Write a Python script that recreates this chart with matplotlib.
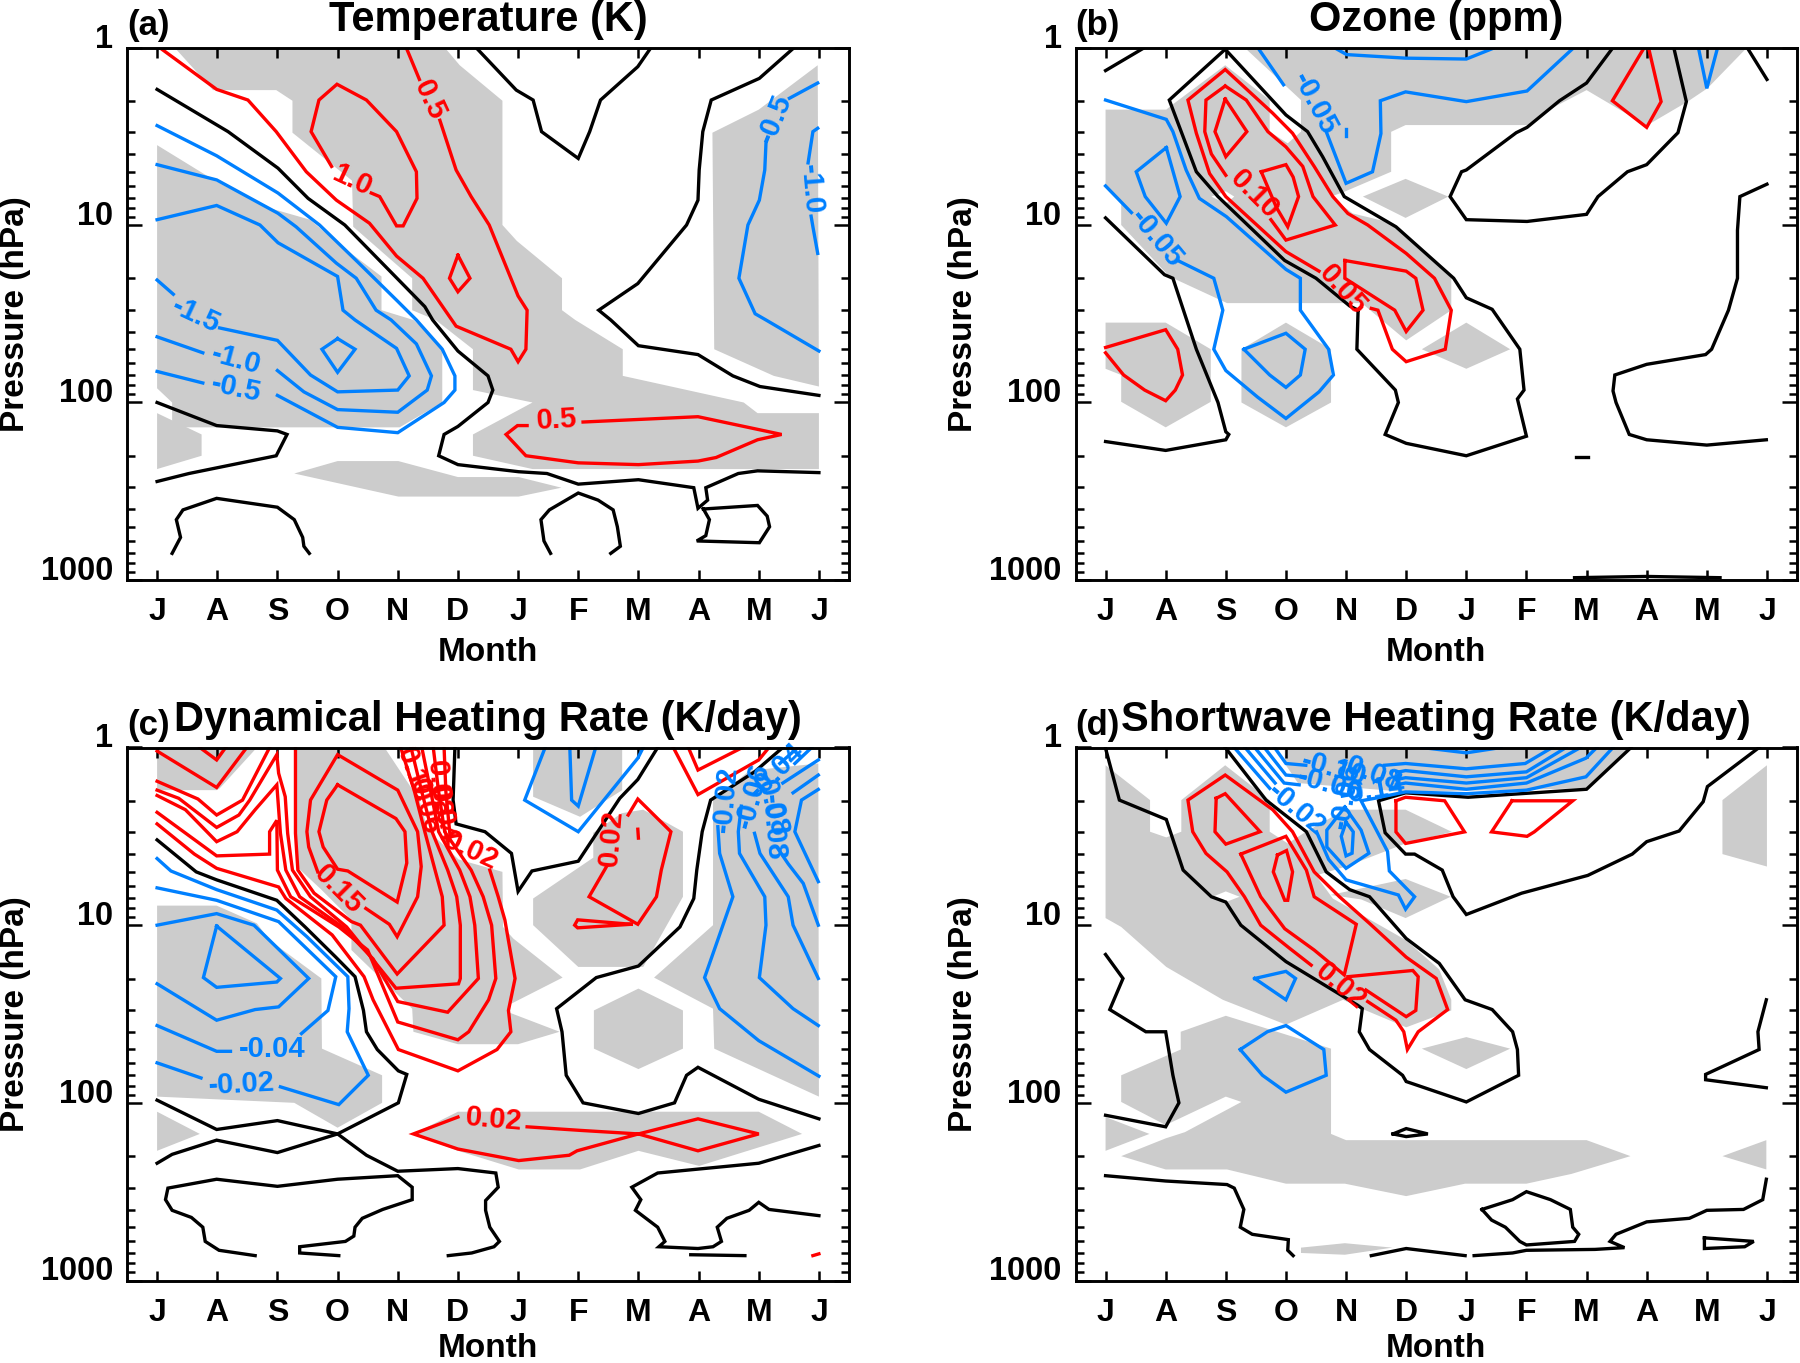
import matplotlib
matplotlib.use("Agg")
import matplotlib.pyplot as plt
import numpy as np

plt.rcParams['font.family'] = ['Liberation Sans', 'DejaVu Sans']
plt.rcParams['font.weight'] = 'bold'

months = ['J', 'A', 'S', 'O', 'N', 'D', 'J', 'F', 'M', 'A', 'M', 'J']

RED = '#ff0000'
BLUE = '#0080ff'
GREY = '#cccccc'

# every contour and patch is a list of (month index, log10 pressure in hPa)

# ---- (a) temperature
a_grey = [
    [(.29,0),(4.78,0),(5.03,.10),(5.74,.30),(5.74,1.0),(5.98,1.09),(6.73,1.30),(6.73,1.48),(6.95,1.535),(7.74,1.70),
     (7.74,1.85),(9.75,2.0),(9.98,2.06),(11,2.06),(11,2.375),(6.24,2.375),(5.25,2.30),(5.25,2.18),(6.24,2.0),(5.25,1.93),
     (5.25,1.70),(4.63,1.535),(4.24,1.48),(4.24,1.30),(3.26,1.01),(3.24,.75),(2.25,.48),(2.25,.30),(1.98,.24),(.93,.24)],
    [(0,.55),(.99,.756),(1.82,.90),(2.54,.97),(3.03,1.11),(3.73,1.29),(3.73,1.48),(4.26,1.535),(4.74,1.685),(4.74,2.0),
     (4.03,2.14),(.25,2.14),(.25,2.0),(0,1.92)],
    [(0,2.06),(.74,2.18),(.74,2.30),(0,2.375)],
    [(2.28,2.40),(3,2.33),(4.01,2.33),(5,2.42),(6.01,2.42),(6.72,2.48),(6.01,2.53),(4.01,2.53)],
    [(10.98,.10),(10,.35),(9.23,.48),(9.26,1.70),(10.25,1.85),(11,1.91)],
]
a_black = [
    [(0,.236),(1.18,.474),(2.01,.68),(2.51,.85),(3.12,1.0),(3.64,1.18),(4.45,1.46),(4.58,1.535),(5,1.71),(5.5,1.85),(5.58,1.93),
     (5.5,2.0),(5,2.135),(4.77,2.18),(4.68,2.30),(5,2.35),(6.01,2.39),(6.48,2.40),(7,2.46),(8,2.435),(8.92,2.48),(8.99,2.596),
     (9.15,2.55),(9.12,2.48),(9.66,2.40),(9.98,2.385),(11,2.395)],
    [(0,2.0),(.99,2.13),(2,2.16),(2.16,2.18),(1.98,2.30),(.53,2.40),(0,2.445)],
    [(.25,2.85),(.39,2.76),(.32,2.66),(.43,2.605),(.99,2.54),(2,2.59),(2.28,2.66),(2.42,2.76),(2.44,2.81),(2.53,2.85)],
    [(6.54,2.85),(6.43,2.78),(6.38,2.66),(6.52,2.605),(7,2.51),(7.33,2.55),(7.58,2.605),(7.65,2.70),(7.70,2.81),(7.54,2.85)],
    [(9.08,2.60),(9.98,2.58),(10.14,2.64),(10.18,2.70),(10.01,2.79),(8.97,2.78),(9.12,2.75),(9.18,2.66),(9.08,2.60)],
    [(5.3,0),(5.97,.24),(6.25,.296),(6.39,.474),(7,.625),(7.19,.474),(7.37,.296),(7.99,.108),(8.21,0)],
    [(10.59,0),(10.01,.174),(9.21,.296),(9.07,.474),(9.01,.69),(8.99,.86),(8.8,1.0),(7.99,1.33),(7.34,1.48),(7.54,1.535),(8,1.68),
     (8.99,1.73),(9.57,1.85),(10.02,1.91),(11,1.96)],
]
a_red = [
    [(.04,0),(.99,.236),(1.51,.296),(1.98,.474),(2.48,.70),(2.98,.86),(3.53,.99),(3.98,1.175),(4.42,1.30),(4.97,1.57),(5.88,1.70),
     (6,1.77),(6.13,1.70),(6.15,1.48),(6,1.40),(5.52,1.0),(5.22,.84),(4.97,.69),(4.70,.41)],
    [(4.36,.18),(4.14,0)],
    [(2.9,.67),(2.56,.474),(2.69,.296),(2.99,.207),(3.48,.296),(3.98,.474),(4.31,.70),(4.32,.85),(4.09,1.005),(3.98,1.005),(3.70,.84),(3.56,.82)],
    [(5,1.17),(5.2,1.30),(5,1.376),(4.86,1.30),(5,1.17)],
    [(7.08,2.11),(8.99,2.08),(10.38,2.18),(9.98,2.21),(9.29,2.31),(8.99,2.33),(8,2.35),(7,2.34),(6.13,2.30),(5.8,2.18),(5.99,2.13),(6.15,2.13)],
]
a_blue = [
    [(0,.44),(.99,.61),(2.01,.82),(2.7,1.0),(3.34,1.21),(4,1.43),(4.31,1.535),(4.74,1.70),(4.95,1.85),(4.95,1.93),(4.77,2.0),(4,2.17),
     (3,2.14),(2,1.96)],
    [(.76,1.89),(0,1.825)],
    [(0,.66),(.99,.746),(2.01,.934),(2.31,1.01),(2.98,1.215),(3.31,1.30),(3.64,1.48),(3.89,1.535),(4.31,1.67),(4.56,1.85),(4.49,1.93),
     (4,2.055),(3,2.04),(2.44,1.94),(2,1.82)],
    [(.76,1.72),(0,1.63)],
    [(0,1.31),(.27,1.39)],
    [(1.04,1.58),(2,1.65),(2.55,1.845),(3,1.94),(4,1.93),(4.19,1.85),(3.98,1.695),(3.29,1.535),(3.09,1.48),(3,1.29),(2.01,1.10),(1.71,1.0),(.99,.89),(0,.97)],
    [(3,1.64),(3.29,1.70),(3,1.83),(2.74,1.70),(3,1.64)],
    [(10.98,.20),(10.51,.286)],
    [(10.12,.54),(10.1,.69),(10.01,.86),(9.82,1.0),(9.67,1.30),(9.94,1.50),(10.12,1.535),(11,1.71)],
    [(10.98,.455),(10.9,.474),(10.82,.65)],
    [(10.87,.95),(10.9,1.01),(10.98,1.16)],
]
a_labels = [
    ('0.5', 4.53, .295, -65, RED), ('1.0', 3.23, .746, -25, RED), ('0.5', 6.64, 2.10, 3, RED),
    ('-1.5', .65, 1.51, -25, BLUE), ('-1.0', 1.31, 1.76, -15, BLUE), ('-0.5', 1.31, 1.92, -12, BLUE),
    ('-0.5', 10.26, .40, 68, BLUE), ('-1.0', 10.87, .80, -85, BLUE),
]

# ---- (b) ozone
b_grey = [
    [(0,.35),(1.01,.35),(1.12,.32),(1.99,.10),(2.73,.296),(2.73,.474),(3.03,.54),(3.25,.474),(3.25,.296),(2.31,0),(10.67,0),
     (10.01,.23),(9.68,.305),(9,.44),(8.4,.32),(8,.24),(7.49,.33),(7.01,.437),(4.99,.437),(4.75,.475),(4.75,.70),(3.99,.81),
     (3.75,.84),(4.11,.935),(4.78,.99),(5.75,1.30),(5.75,1.48),(5,1.65),(4.26,1.44),(2.02,1.44),(1.06,1.29),(.26,1.0),(.26,.88),(0,.78)],
    [(4.28,.84),(4.99,.74),(5.7,.84),(4.99,.96)],
    [(5.26,1.70),(6,1.55),(6.73,1.70),(6,1.81)],
    [(0,1.55),(1,1.55),(1.75,1.70),(1.75,1.996),(1,2.14),(.26,1.996),(.26,1.845),(0,1.81)],
    [(2.26,1.70),(3,1.55),(3.75,1.70),(3.75,2),(3,2.14),(2.26,2)],
]
b_white = [[(1.76,.84),(2,.81),(2.14,.84),(2,.88)]]
b_black = [
    [(0,.13),(.65,0)],
    [(4.2,1.48),(4.06,1.456),(3.5,1.30),(2.98,1.20),(1.87,.84),(1.51,.70),(1.06,.296),(1.99,.01),(3,.38),(3.36,.474),(3.61,.615),(3.97,.84),
     (4.83,1.01),(5.79,1.30),(6,1.41),(6.43,1.475),(6.89,1.70),(6.96,1.93),(6.85,1.98),(7,2.19),(6,2.30),(5,2.23),(4.65,2.18),(4.87,2.0),
     (4.82,1.93),(4.18,1.70),(4.2,1.48)],
    [(0,.96),(.98,1.28),(1.12,1.30),(1.51,1.70),(1.87,2.0),(2,2.165),(2.05,2.18),(2,2.21),(1,2.27),(0,2.22)],
    [(10.67,0),(11,.18)],
    [(8.44,0),(8,.20),(7.55,.30),(7.01,.45),(6.83,.48),(6,.69),(5.92,.70),(5.73,.84),(6,.97),(7.01,.98),(8,.94),(8.19,.84),(8.68,.70),(9,.66),
     (9.52,.48),(9.66,.305),(9.45,0)],
    [(11,.77),(10.55,.84),(10.51,1.03),(10.51,1.30),(10.36,1.48),(10.08,1.70),(9.98,1.73),(9,1.785),(8.47,1.845),(8.44,1.935),(8.49,2),(8.71,2.18),
     (9,2.21),(10,2.24),(10.99,2.21)],
    [(7.83,2.305),(8.02,2.305)],
    [(7.8,2.987),(9,2.98),(10.22,2.987)],
]
b_blue = [
    [(0,.296),(1.01,.405),(1.12,.474),(1.34,.69),(1.56,.85),(2.01,.953),(3,1.25),(3.24,1.30),(3.24,1.48),(3.71,1.70),(3.79,1.845),(3.55,1.94),
     (3,2.09),(2.53,1.97),(2,1.82),(1.8,1.70),(1.95,1.48),(1.8,1.30),(1.2,1.2)],
    [(.43,.93),(0,.78)],
    [(1.01,.564),(1.24,.84),(1.01,.99),(.66,.84),(.51,.70),(1.01,.564)],
    [(2.3,1.70),(3,1.61),(3.32,1.70),(3.24,1.845),(3,1.915),(2.73,1.845),(2.3,1.70)],
    [(2.53,0),(2.96,.21)],
    [(3.67,.474),(4,.765),(4.44,.70),(4.58,.485),(4.57,.30),(4.99,.25),(6,.305),(7.01,.245),(7.79,0)],
    [(3.8,0),(4.01,.04),(4.99,.06),(6,.065),(6.48,0)],
    [(4,.46),(4,.50)],
    [(9.86,0),(10,.23),(10.18,0)],
]
b_red = [
    [(3.55,1.26),(3,1.15),(2,.84),(1.73,.71),(1.51,.483),(1.37,.296),(1.99,.124),(2.78,.37),(3.11,.483),(3.47,.67),(3.78,.84),(4.03,.935),(4.36,1.0),
     (5,1.16),(5.47,1.30),(5.75,1.48),(5.65,1.70),(5,1.77),(4.77,1.70),(4.53,1.48),(4.42,1.47)],
    [(1.99,.217),(2.34,.296),(2.7,.474),(3,.56),(3.28,.67),(3.45,.84),(3.82,1.0),(3,1.085),(2.75,.97)],
    [(2,.72),(1.76,.6),(1.65,.474),(1.67,.296),(1.99,.217)],
    [(1.99,.29),(2.35,.474),(2.0,.615),(1.82,.474),(1.99,.29)],
    [(2.59,.70),(3,.66),(3.12,.73),(3.21,.84),(3.03,1.01),(2.84,.90),(2.59,.70)],
    [(3.98,1.20),(5,1.26),(5.16,1.30),(5.28,1.48),(5,1.60),(4.81,1.48),(3.98,1.30),(3.98,1.20)],
    [(0,1.69),(1,1.59),(1.2,1.70),(1.28,1.845),(1.16,1.93),(1,1.99),(.65,1.93),(.3,1.845),(0,1.72)],
    [(8.96,0),(8.43,.30),(9,.45),(9.24,.305),(9.03,0)],
]
b_labels = [
    ('-0.05', .84, 1.075, -50, BLUE), ('-0.05', 3.47, .315, -62, BLUE),
    ('0.10', 2.48, .83, -45, RED), ('0.05', 3.94, 1.366, -48, RED),
]

# ---- (c) dynamical heating rate
c_grey = [
    [(0,0),(1.66,0),(1.04,.23),(.99,.24),(0,.24)],
    [(2.32,0),(3.78,0),(4.36,.296),(4.5,.465),(5.01,.63),(5.74,.70),(5.75,1.01),(5.92,1.075),(6.74,1.295),(5.84,1.45),(5.84,1.49),(6.69,1.60),
     (6,1.67),(5,1.67),(4.26,1.60),(4.24,1.47),(3.23,1.14),(3.23,.97),(2.73,.80),(2.32,.67)],
    [(0,.89),(.99,.89),(1.66,.99),(1.87,1.085),(2.73,1.30),(2.74,1.695),(3.74,1.845),(3.74,2.0),(3,2.14),(2.28,2),(0,1.965)],
    [(0,2.05),(.71,2.175),(0,2.27)],
    [(5,2.05),(10,2.05),(10.72,2.175),(9.01,2.355),(8,2.27),(7.03,2.375),(6.01,2.375),(5,2.27),(4.26,2.175)],
    [(6.25,0),(7.73,0),(7.73,.24),(7.03,.39),(6.25,.277)],
    [(8.08,.35),(8.74,.474),(8.74,.84),(8.08,1.235),(7,1.235),(6.25,1.0),(6.25,.85),(7.25,.62),(7.25,.48),(7.72,.37)],
    [(8,1.357),(8.74,1.48),(8.74,1.695),(8,1.81),(7.26,1.695),(7.26,1.48)],
    [(10.99,.09),(9.85,.13),(9.24,.296),(9.24,1.0),(8.26,1.295),(9.24,1.47),(9.26,1.695),(11,1.965)],
]
c_black = [
    [(0,.52),(.65,.70),(.99,.745),(1.99,.86),(2.46,1.01),(2.97,1.18),(3.29,1.29),(3.43,1.48),(3.48,1.60),(3.66,1.70),(4.01,1.82),(4.15,1.84),(4.01,2.0),
     (3,2.175),(2,2.28),(.99,2.21),(.25,2.29),(0,2.34)],
    [(0,1.985),(.99,2.15),(2,2.10),(3,2.175),(3.48,2.295),(4,2.385),(5,2.37),(5.63,2.395),(5.67,2.475),(5.46,2.55),(5.46,2.605),(5.53,2.70),(5.69,2.78),
     (5.6,2.81),(5.23,2.845),(4.84,2.86)],
    [(1.63,2.86),(1.03,2.83),(.8,2.78),(.76,2.70),(.57,2.645),(.25,2.605),(.14,2.545),(.18,2.48),(.99,2.43),(2,2.47),(3,2.43),(4,2.41),(4.24,2.475),
     (4.24,2.545),(3.75,2.60),(3.41,2.65),(3.29,2.70),(3.27,2.75),(3.13,2.78),(2.37,2.81),(2.37,2.845),(3.02,2.86)],
    [(8.32,0),(7.99,.18),(7.69,.286),(7,.64),(6.23,.695),(6,.81),(5.89,.596),(5.45,.474),(4.97,.43),(4.92,.296),(4.95,0)],
    [(10.4,0),(9.93,.137),(9.2,.296),(9.06,.474),(8.97,.69),(8.92,.85),(8.69,1.01),(8,1.23),(7.3,1.295),(6.64,1.47),(6.73,1.60),(6.8,1.845),(7.08,2.0),
     (8,2.06),(8.6,2.0),(8.8,1.845),(8.99,1.80),(10,1.98),(11,2.09)],
    [(11,2.24),(10,2.34),(8.32,2.395),(7.89,2.475),(8.04,2.545),(7.95,2.605),(8.32,2.70),(8.44,2.78),(8.34,2.81),(8.99,2.82),(9.24,2.81),(9.38,2.78),
     (9.31,2.70),(9.47,2.65),(9.84,2.605),(10,2.56),(10.17,2.60),(11,2.635)],
    [(8.87,2.855),(9.77,2.86)],
]
c_blue = [
    [(0,.625),(.23,.695),(.99,.80),(1.99,.915),(2.49,1.065),(3.17,1.29),(3.19,1.47),(3.16,1.60),(3.51,1.845),(3.02,2.01),(2.05,1.91)],
    [(.73,1.86),(0,1.775)],
    [(0,.79),(.99,.86),(2.02,.98),(2.97,1.29),(2.84,1.48),(2.4,1.61)],
    [(1.22,1.71),(.99,1.71),(0,1.565)],
    [(0,1.0),(.99,.935),(1.61,1.0),(2.52,1.30),(2.02,1.46),(1.63,1.475),(.99,1.535),(0,1.33)],
    [(.99,1.005),(2.05,1.30),(1.99,1.32),(.99,1.35),(.77,1.295),(.99,1.005)],
    [(6.45,0),(6.11,.296),(7,.474),(7.99,.06),(8.08,0)],
    [(6.86,0),(6.89,.296),(7,.33),(7.29,0)],
    [(9.32,.446),(9.35,.596),(9.57,.84),(9.1,1.295),(9.35,1.47),(10,1.65),(11,1.85)],
    [(9.71,.33),(9.66,.474),(9.68,.596),(10.1,.84),(10.12,1.0),(10.01,1.295),(10.57,1.47),(10.99,1.565)],
    [(9.93,.483),(10.02,.596),(10.49,.84),(10.57,1.0),(10.99,1.30)],
    [(10.32,.57),(10.49,.655),(10.74,.765),(10.99,1.0)],
    [(10.99,.236),(10.71,.296),(10.6,.474),(10.99,.755)],
    [(10.57,.255),(10.99,.155)],
    [(10.4,.20),(10.99,.07)],
    [(10.6,.09),(10.88,0)],
    [(10.35,.09),(10.65,0)],
]
c_red = [
    [(.71,0),(.99,.07),(1.14,0)],
    [(0,.02),(.99,.225),(1.49,0)],
    [(0,.19),(.68,.29),(.99,.38),(1.42,.296),(1.87,0)],
    [(3,.21),(3.97,.40),(4.12,.474),(4.15,.65),(3.99,.87),(3.17,.695),(3,.685),(2.76,.56),(2.69,.474),(2.82,.296),(3,.21)],
    [(3.47,.906),(3.86,.995),(3.99,1.065),(4.33,.84),(4.39,.67),(4.33,.474),(4,.24),(3,.04),(2.55,.296),(2.49,.474),(2.52,.56),(2.67,.70)],
    [(2.3,0),(2.3,.483),(2.34,.69),(2.61,.82),(3.23,.98),(3.38,1.0),(3.99,1.275),(4.77,1.0),(4.74,.84),(4.62,.69),(4.45,.474),(4.28,.25),(4.05,0)],
    [(0,.24),(.36,.286),(.99,.45),(1.36,.38),(1.54,.296),(1.99,.04),(2.02,.145),(2.13,.277),(2.17,.483),(2.25,.69),(2.55,.84),(3.15,1.01),(3.97,1.355),
     (5.01,1.33),(5.04,1.30),(5.04,1.0),(4.98,.84),(4.83,.69),(4.57,.474),(4.4,.25),(4.22,0)],
    [(0,.27),(.47,.35),(.99,.53),(1.33,.474),(1.63,.35),(1.99,.21),(2.05,.483),(2.14,.69),(2.37,.84),(3.08,1.01),(3.59,1.19),(4,1.43),(4.83,1.49),(5.34,1.30),
     (5.28,1.0),(5.2,.84),(5.03,.69),(4.68,.474),(4.55,.25),(4.40,0)],
    [(0,.365),(.99,.61),(1.87,.60),(1.87,.474),(1.99,.41),(2,.69),(2.22,.84),(3.02,1.01),(3.5,1.14),(4,1.545),(5,1.645),(5.18,1.60),(5.51,1.42),(5.63,1.30),
     (5.56,1.0),(5.42,.84),(5.22,.69),(4.78,.474),(4.68,.25),(4.59,0)],
    [(0,.43),(.62,.60),(.99,.68),(2.02,.785),(2.14,.85),(2.91,1.055),(3.44,1.29),(3.59,1.42),(4.01,1.70),(5,1.82),(5.65,1.70),(5.88,1.60),(5.84,1.48),(5.95,1.30),
     (5.78,.97),(5.67,.84),(5.53,.69)],
    [(4.87,.50),(4.80,.25),(4.77,0)],
    [(7.47,.67),(7.18,.84),(7.99,.995),(8.3,.84),(8.38,.69),(8.54,.474),(7.99,.29),(7.83,.38)],
    [(7.88,.995),(6.99,.97),(6.94,1.0),(6.99,1.015),(7.88,.995)],
    [(7.99,.46),(8.0,.51)],
    [(8.58,0),(8.99,.265),(10,.07),(10.17,0)],
    [(8.83,0),(8.99,.127),(9.73,0)],
    [(5,2.08),(4.26,2.175),(5,2.26),(6.01,2.325),(6.85,2.295),(6.98,2.27),(8,2.175),(8.99,2.27),(10,2.175),(8.99,2.09),(8,2.175),(7.03,2.155),(6.15,2.135)],
    [(10.9,2.86),(11,2.85)],
]
c_labels = [
    ('-0.02', 1.4, 1.895, 3, BLUE), ('-0.04', 1.91, 1.695, 0, BLUE),
    ('-0.02', 9.45, .29, 85, BLUE), ('-0.06', 9.9, .27, 75, BLUE), ('-0.04', 10.3, .13, 45, BLUE),
    ('-0.08', 10.2, .32, -75, BLUE), ('-0.08', 10.24, .45, -85, BLUE),
    ('0.15', 3.02, .80, -45, RED), ('0.02', 5.22, .58, -25, RED), ('0.02', 7.55, .51, 85, RED), ('0.02', 5.6, 2.095, -5, RED),
    ('0.10', 4.27, .155, -70, RED), ('0.08', 4.67, .23, -85, RED), ('0.06', 4.45, .33, -75, RED), ('0.04', 4.75, .38, -80, RED),
]

# ---- (d) shortwave heating rate
d_grey = [
    [(0,.10),(.74,.296),(.74,.474),(1.01,.506),(1.26,.474),(1.26,.296),(1.99,.10),(2.73,.296),(2.73,.474),(3.03,.54),(3.33,.475),(3.98,.35),(4.99,.35),(5.76,.475),
     (4.99,.54),(4,.67),(3.5,.72),(3.78,.85),(5,1.085),(5.55,1.25),(5.75,1.42),(5.75,1.48),(5,1.575),(4.26,1.47),(3.95,1.42),(3,1.56),(1.95,1.42),(1.01,1.235),(.26,1.01),(0,.96)],
    [(3.74,.83),(4.99,.74),(5.74,.84),(4.99,.96),(4.25,.855)],
    [(1.25,1.60),(2,1.51),(3.75,1.695),(3.75,2.175),(4,2.21),(8,2.21),(8.73,2.30),(7.75,2.40),(7,2.455),(5.98,2.455),(5,2.525),(3.98,2.455),(3,2.455),(2.02,2.375),(1,2.375),
     (.26,2.30),(1,2.20),(1.32,2.165),(2.26,1.995),(2,1.965),(1,2.125),(.26,1.995),(.26,1.845),(1.25,1.70)],
    [(0,2.08),(.73,2.175),(0,2.27)],
    [(3.25,2.815),(3.98,2.79),(4.77,2.815),(3.98,2.855),(3.25,2.845)],
    [(5.26,1.695),(6,1.63),(6.73,1.695),(6,1.81)],
    [(10.26,2.30),(10.99,2.21),(10.99,2.375)],
    [(11,.10),(10.26,.296),(10.26,.60),(11,.67)],
    [(2.98,0),(8.74,0),(8,.23),(4.99,.25),(3.2,.2),(2.98,.09)],
]
d_white = [[(1.78,.84),(2,.81),(2.23,.84),(2,.87)]]
d_black = [
    [(0,.005),(.23,.296),(1.01,.405),(1.29,.69),(1.76,.84),(2,.87),(2.25,1.0),(3,1.205),(4.19,1.45),(4.27,1.47),(4.22,1.60),(4.39,1.70),(4.94,1.845),(5,1.88),(6,1.995),
     (6.87,1.845),(6.85,1.70),(6.77,1.60),(6.43,1.475),(5.98,1.42),(5.55,1.215),(5,1.075),(4.39,.84),(4.06,.80),(3.67,.70),(3.34,.474),(2.67,.296),(1.99,0)],
    [(8.74,0),(8,.235),(6.03,.28),(4.99,.255),(4.54,.30),(4.65,.48),(4.99,.60),(5.14,.60),(5.6,.69),(5.78,.84),(6,.94),(6.92,.82),(8.02,.72),(8.76,.60),(9,.53),(9.54,.47),
     (9.94,.305),(10.01,.22),(10.87,0)],
    [(0,1.165),(.29,1.30),(.07,1.475),(.67,1.60),(1,1.60),(1.12,1.845),(1.22,2.0),(1,2.135),(0,2.07)],
    [(0,2.41),(1,2.44),(2.02,2.46),(2.14,2.48),(2.3,2.60),(2.24,2.70),(2.44,2.74),(3.04,2.77),(3.03,2.83),(3.12,2.86)],
    [(4.42,2.86),(5,2.82),(5.98,2.86)],
    [(6.13,2.86),(6.77,2.845),(7,2.83),(8.14,2.825),(8.63,2.815),(8.39,2.78),(8.49,2.74),(9,2.67),(9.71,2.65),(10,2.605),(10.61,2.60),(10.93,2.545),(10.99,2.43)],
    [(6.26,2.60),(6.77,2.545),(7,2.50),(7.4,2.545),(7.73,2.60),(7.77,2.70),(7.87,2.74),(7.8,2.78),(7,2.80),(6.89,2.78),(6.65,2.70),(6.42,2.66),(6.26,2.60)],
    [(9.96,2.76),(10.78,2.78),(10.63,2.81),(9.96,2.82),(9.96,2.76)],
    [(4.78,2.175),(5,2.145),(5.36,2.175),(5,2.19),(4.78,2.175)],
    [(10.99,1.915),(9.98,1.87),(9.98,1.84),(10.87,1.70),(10.85,1.60),(10.99,1.42)],
]
d_blue = [
    [(2.24,1.70),(2.69,1.60),(3,1.565),(3.63,1.70),(3.67,1.845),(3,1.94),(2.61,1.845),(2.24,1.70)],
    [(2.48,1.30),(3,1.26),(3.16,1.30),(3,1.42),(2.48,1.30)],
    [(2.81,0),(3,.09),(3.33,.10)],
    [(2.64,0),(3,.155),(3.32,.165)],
    [(2.48,0),(2.97,.2),(3.22,.21)],
    [(2.32,0),(2.82,.2)],
    [(2.14,0),(2.73,.23)],
    [(4.64,.10),(4.99,.09),(6,.12),(6.98,.09),(7.43,0)],
    [(4.84,.14),(4.99,.13),(6,.165),(7,.137),(7.66,0)],
    [(4.84,.18),(4.99,.17),(6,.2),(7,.17),(7.9,0)],
    [(4.84,.21),(4.99,.2),(6,.235),(7,.2),(7.99,.06),(8.17,0)],
    [(3.51,.475),(3.71,.63),(4,.745),(4.87,.83),(4.99,.91),(5.14,.84),(4.72,.695),(4.69,.585),(4.25,.30),(4.49,.285),(4.99,.25),(6,.26),(7,.24),(7.99,.165),(8.44,0)],
    [(3.98,.335),(4.25,.465),(4.38,.595),(4,.68),(3.68,.56),(3.68,.465),(3.98,.335)],
    [(4,.42),(4.12,.475),(4.1,.595),(4,.61),(3.92,.50),(4,.42)],
    [(5.26,0),(6,.03),(6.58,0)],
]
d_red = [
    [(3.42,1.225),(3.06,1.13),(2.58,1),(2.31,.84),(2.02,.70),(1.67,.596),(1.45,.474),(1.37,.296),(1.99,.155),(2.78,.35),(3.11,.474),(3.47,.70),(3.89,.84),(4.39,.99),(5,1.18),
     (5.5,1.30),(5.69,1.475),(5.2,1.60),(5.02,1.70),(4.96,1.60),(4.83,1.535),(4.36,1.43)],
    [(2.25,.60),(2.58,.84),(2.98,1.02),(3.47,1.14),(3.97,1.28),(4.17,.995),(3.47,.84),(3.34,.69),(3,.50),(2.25,.60)],
    [(2.86,.605),(3.01,.58),(3.11,.70),(3.03,.86),(2.98,.86),(2.79,.70),(2.86,.605)],
    [(1.84,.286),(1.99,.26),(2.57,.474),(2.0,.544),(1.82,.474),(1.84,.286)],
    [(4.03,1.29),(5.11,1.255),(5.2,1.29),(5.16,1.48),(5,1.515),(4.33,1.365)],
    [(4.83,.30),(4.99,.28),(5.64,.30),(5.97,.475),(4.99,.54),(4.83,.475),(4.83,.30)],
    [(6.76,.30),(7.77,.30),(7.13,.475),(7.01,.50),(6.42,.475),(6.76,.30)],
]
d_labels = [
    ('0.02', 3.92, 1.345, -40, RED),
    ('-0.10', 3.8, .12, -15, BLUE), ('-0.08', 4.4, .145, -20, BLUE), ('-0.06', 3.74, .21, -15, BLUE),
    ('-0.14', 4.43, .24, 10, BLUE), ('-0.06', 4.0, .27, 80, BLUE), ('-0.02', 3.17, .35, -40, BLUE),
]

panels = [
    ('(a)', 'Temperature (K)', [127, 47.5, 849, 580], 7, a_grey, [], a_black, a_blue, a_red, a_labels),
    ('(b)', 'Ozone (ppm)', [1075.5, 47.5, 1797, 580], 7, b_grey, b_white, b_black, b_blue, b_red, b_labels),
    ('(c)', 'Dynamical Heating Rate (K/day)', [127, 747.5, 849, 1280.5], 3.5, c_grey, [], c_black, c_blue, c_red, c_labels),
    ('(d)', 'Shortwave Heating Rate (K/day)', [1075.5, 747.5, 1797, 1280.5], 3.5, d_grey, d_white, d_black, d_blue, d_red, d_labels),
]

W, H = 1800, 1363
fig = plt.figure(figsize=(W/100, H/100), dpi=100)

def draw_lines(ax, lines, color):
    for line in lines:
        pts = np.array(line)
        ax.plot(pts[:, 0], 10**pts[:, 1], color=color, lw=2.4, solid_joinstyle='miter', zorder=3)

for tag, title, box, xpad, grey, white, black, blue, red, labels in panels:
    ax = fig.add_axes([box[0]/W, 1-box[3]/H, (box[2]-box[0])/W, (box[3]-box[1])/H])
    ax.set_yscale('log')
    ax.set_xlim(-.5, 11.5)
    ax.set_ylim(1000, 1)
    for poly in grey:
        pts = np.array(poly)
        ax.fill(pts[:, 0], 10**pts[:, 1], color=GREY, lw=0, zorder=1)
    for poly in white:
        pts = np.array(poly)
        ax.fill(pts[:, 0], 10**pts[:, 1], color='white', lw=0, zorder=2)
    draw_lines(ax, black, 'black')
    draw_lines(ax, blue, BLUE)
    draw_lines(ax, red, RED)
    for text, m, lp, rot, color in labels:
        ax.text(m, 10**lp, text, color=color, fontsize=21, fontweight='bold', rotation=rot,
                ha='center', va='center', rotation_mode='anchor', zorder=4)
    ax.set_xticks(range(12))
    ax.set_xticklabels(months)
    ax.set_yticks([1, 10, 100, 1000])
    ax.set_yticklabels(['1', '10', '100', '1000'])
    ax.yaxis.set_minor_locator(matplotlib.ticker.LogLocator(base=10, subs=range(2, 10), numticks=12))
    ax.yaxis.set_minor_formatter(matplotlib.ticker.NullFormatter())
    ax.tick_params(axis='x', which='major', direction='in', top=True, length=7.5, width=1.8, labelsize=23, pad=12.5)
    ax.tick_params(axis='y', which='major', direction='in', right=True, length=11, width=1.8, labelsize=23.5, pad=10)
    ax.tick_params(axis='y', which='minor', direction='in', right=True, length=5.5, width=1.8)
    for lab in ax.get_yticklabels():
        lab.set_verticalalignment('baseline')
    for s in ax.spines.values():
        s.set_linewidth(2.1)
        s.set_zorder(5)
    ax.set_xlabel('Month', fontsize=24, fontweight='bold', labelpad=xpad)
    ax.set_ylabel('Pressure (hPa)', fontsize=24, fontweight='bold', va='center')
    ax.yaxis.set_label_coords(-.155, .5)
    ax.set_title(title, fontsize=30, fontweight='bold', pad=12)
    ax.text(0, 1.01, tag, transform=ax.transAxes, fontsize=25, ha='left', va='bottom')

fig.savefig('out.png', dpi=100)
